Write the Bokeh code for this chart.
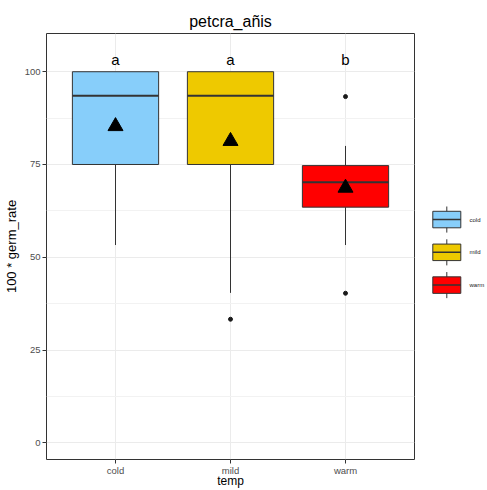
from bokeh.plotting import figure
from bokeh.models import Range1d, FixedTicker
from bokeh.layouts import row
from bokeh.embed import file_html
from bokeh.resources import INLINE
from bokeh.core.properties import value

# ---------------- data ----------------
temps = ["cold", "mild", "warm"]
box_colors = ["#87CEFA", "#EEC900", "#FF0000"]
q1 = [75.0, 75.0, 63.5]
medians = [93.5, 93.5, 70.2]
q3 = [100.0, 100.0, 74.7]
whisker_low = [53.3, 40.4, 53.3]
whisker_high = [100.0, 100.0, 80.0]
means = [85.3, 81.3, 68.7]
outlier_temps = ["mild", "warm", "warm"]
outlier_values = [33.3, 93.3, 40.3]
group_letters = ["a", "a", "b"]
letter_height = 103.3
y_ticks = [0, 25, 50, 75, 100]
y_minor_ticks = [12.5, 37.5, 62.5, 87.5]

FONT = "Liberation Sans"
DARK = "#333333"

xs = [i + 1 for i in range(len(temps))]
pos = {t: i + 1 for i, t in enumerate(temps)}
half = 0.375

H = 490
MAIN_W = 416
LEG_W = 71

# ---------------- main panel ----------------
p = figure(width=MAIN_W, height=H, x_range=Range1d(0.4, 3.6), y_range=Range1d(-4.5, 110.3),
           output_backend="svg", toolbar_location=None, title="petcra_añis",
           min_border_left=0, min_border_right=2, min_border_top=33, min_border_bottom=0)
p.title.text_font = FONT
p.title.text_font_size = "16px"
p.title.text_font_style = "normal"
p.title.text_color = "black"
p.title.align = "center"
p.title.standoff = 8

p.background_fill_color = "white"
p.border_fill_color = "white"
p.outline_line_color = DARK
p.outline_line_width = 1

p.xaxis.ticker = FixedTicker(ticks=xs)
p.xaxis.major_label_overrides = {x: t for x, t in zip(xs, temps)}
p.xaxis.axis_label = "temp"
p.yaxis.ticker = FixedTicker(ticks=y_ticks, minor_ticks=y_minor_ticks)
p.yaxis.axis_label = "100 * germ_rate"

for ax in (p.xaxis[0], p.yaxis[0]):
    ax.axis_line_color = None
    ax.major_tick_line_color = DARK
    ax.major_tick_out = 4
    ax.major_tick_in = 0
    ax.minor_tick_line_color = None
    ax.major_label_text_color = "#4D4D4D"
    ax.major_label_text_font = FONT
    ax.major_label_text_font_size = "9.5px"
    ax.major_label_standoff = 2
    ax.axis_label_text_font = FONT
    ax.axis_label_text_font_size = "13px"
    ax.axis_label_text_font_style = "normal"
    ax.axis_label_text_color = "black"
    ax.axis_label_standoff = 3
p.xaxis[0].major_label_standoff = 1
p.xaxis[0].axis_label_text_font_size = "12px"
p.xaxis[0].axis_label_standoff = -5

p.xgrid.grid_line_color = "#EBEBEB"
p.ygrid.grid_line_color = "#EBEBEB"
p.ygrid.minor_grid_line_color = "#F2F2F2"
p.ygrid.minor_grid_line_width = 1

# whiskers
p.segment(x0=xs, y0=q3, x1=xs, y1=whisker_high, line_color=DARK, line_width=1)
p.segment(x0=xs, y0=whisker_low, x1=xs, y1=q1, line_color=DARK, line_width=1)
# boxes
p.vbar(x=xs, width=2 * half, bottom=q1, top=q3, fill_color=box_colors,
       line_color=DARK, line_width=1)
# medians
p.segment(x0=[x - half for x in xs], y0=medians, x1=[x + half for x in xs], y1=medians,
          line_color=DARK, line_width=2)
# outliers
p.scatter(x=[pos[t] for t in outlier_temps], y=outlier_values, size=4,
          fill_color="#1A1A1A", line_color="#1A1A1A")
# means
p.scatter(x=xs, y=means, marker="triangle", size=15, fill_color="black", line_color="black")
# group letters
p.text(x=xs, y=[letter_height] * len(xs), text=group_letters, text_align="center",
       text_baseline="alphabetic", text_font=value(FONT), text_font_size="15px",
       text_color="black")

# ---------------- legend ----------------
leg = figure(width=LEG_W, height=H, x_range=Range1d(0, LEG_W), y_range=Range1d(H, 0),
             output_backend="svg", toolbar_location=None, min_border=0,
             x_axis_location=None, y_axis_location=None)
leg.outline_line_color = None
leg.grid.visible = False
leg.background_fill_color = "white"
leg.border_fill_color = "white"

first_center = 214.0
spacing = 37.7
key_x = 30.3
key_half_w = 14.0
key_half_h = 9.5
whisk_half = 15.0
label_x = 53.0
centers = [first_center + i * spacing for i in range(len(temps))]

leg.segment(x0=[key_x] * 3, y0=[c - whisk_half for c in centers], x1=[key_x] * 3,
            y1=[c + whisk_half for c in centers], line_color=DARK, line_width=1)
leg.quad(left=[key_x - key_half_w] * 3, right=[key_x + key_half_w] * 3,
         top=[c - key_half_h for c in centers], bottom=[c + key_half_h for c in centers],
         fill_color=box_colors, line_color=DARK, line_width=1)
leg.segment(x0=[key_x - key_half_w] * 3, y0=centers, x1=[key_x + key_half_w] * 3, y1=centers,
            line_color=DARK, line_width=1.5)
leg.text(x=[label_x] * 3, y=centers, text=temps, text_baseline="middle", text_align="left",
         text_font=value(FONT), text_font_size="6px", text_color="#1A1A1A")

layout = row(p, leg)
open("out.html", "w").write(file_html(layout, INLINE))
